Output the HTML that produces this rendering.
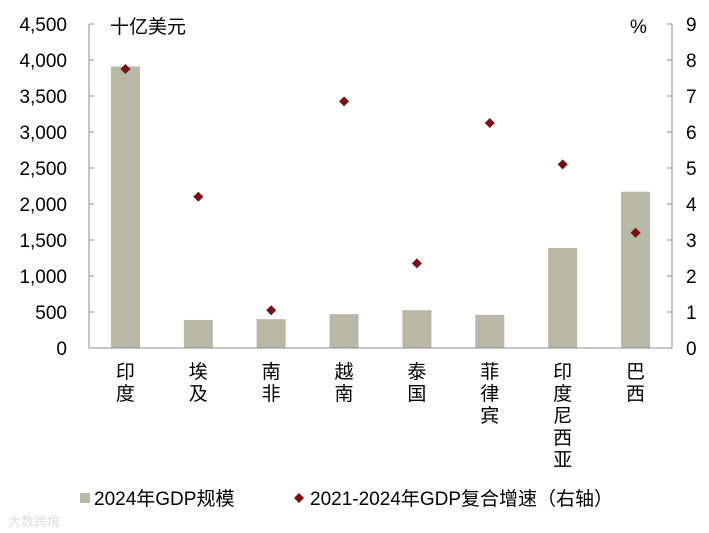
<!DOCTYPE html>
<html><head><meta charset="utf-8">
<style>
body{margin:0;background:#fff;}
svg{display:block;font-family:"Liberation Sans","Noto Sans CJK SC",sans-serif;}
</style></head>
<body>
<svg id="chart" width="709" height="533" viewBox="0 0 709 533"></svg>
<script>
const categories=[["印","度"],["埃","及"],["南","非"],["越","南"],["泰","国"],["菲","律","宾"],["印","度","尼","西","亚"],["巴","西"]];
const gdpValues=[3910,390,400,470,525,460,1390,2170];
const growthValues=[7.75,4.2,1.05,6.85,2.35,6.25,5.1,3.2];
const leftTicks=[0,500,1000,1500,2000,2500,3000,3500,4000,4500];
const leftTickLabels=["0","500","1,000","1,500","2,000","2,500","3,000","3,500","4,000","4,500"];
const rightTicks=[0,1,2,3,4,5,6,7,8,9];

const NS="http://www.w3.org/2000/svg";
const svg=document.getElementById('chart');
const X0=89,X1=672,Y0=348,Y1=24;
const yL=v=>Y0-(v/4500)*(Y0-Y1);
const yR=v=>Y0-(v/9)*(Y0-Y1);
const band=(X1-X0)/categories.length;
const xC=i=>X0+band*(i+0.5);
function el(t,a,txt){const e=document.createElementNS(NS,t);for(const k in a)e.setAttribute(k,a[k]);if(txt!==undefined)e.textContent=txt;svg.appendChild(e);return e;}

gdpValues.forEach((v,i)=>{
  const r=el('rect',{x:xC(i)-14.5,y:yL(v),width:29,height:Y0-yL(v),fill:'#b7b8a5'});
  
  
});
const AC='#8c8c8c';
const ax=el('line',{x1:X0,y1:Y1,x2:X0,y2:Y0,stroke:AC,'stroke-width':1});

const ax2=el('line',{x1:X1,y1:Y1,x2:X1,y2:Y0,stroke:AC,'stroke-width':1});

const ax3=el('line',{x1:X0,y1:Y0,x2:X1,y2:Y0,stroke:AC,'stroke-width':1});

leftTicks.forEach((v,i)=>{
  el('line',{x1:X0,y1:yL(v),x2:X0+5,y2:yL(v),stroke:AC});
  const t=el('text',{x:X0-22,y:yL(v)+7,'text-anchor':'end','font-size':19,fill:'#000'},leftTickLabels[i]);
  
});
rightTicks.forEach(v=>{
  el('line',{x1:X1-5,y1:yR(v),x2:X1,y2:yR(v),stroke:AC});
  const t=el('text',{x:X1+14,y:yR(v)+7,'font-size':19,fill:'#000'},String(v));
  
});
categories.forEach((c,i)=>{
  c.forEach((ch,j)=>{
    const t=el('text',{x:xC(i),y:378+j*22,'text-anchor':'middle','font-size':19,fill:'#000'},ch);
    
  });
});
growthValues.forEach((v,i)=>{
  const x=xC(i),y=yR(v),s=5;
  const p=el('polygon',{points:`${x},${y-s} ${x+s},${y} ${x},${y+s} ${x-s},${y}`,fill:'#7b0f12'});
  
  
});
const u1=el('text',{x:110,y:33,'font-size':19,fill:'#000'},'十亿美元');

const u2=el('text',{x:630,y:33,'font-size':19,fill:'#000'},'%');

const l1=el('rect',{x:80,y:493,width:10,height:10,fill:'#b7b8a5'});

const lt1=el('text',{x:94,y:505,'font-size':19,fill:'#000'},'2024年GDP规模');

const l2=el('polygon',{points:'299,493 304,498 299,503 294,498',fill:'#7b0f12'});

const lt2=el('text',{x:310,y:505,'font-size':19,fill:'#000'},'2021-2024年GDP复合增速（右轴）');

const wm=el('text',{x:8,y:526,'font-size':13,fill:'#ddd'},'大数跨境');

</script>
</body></html>
